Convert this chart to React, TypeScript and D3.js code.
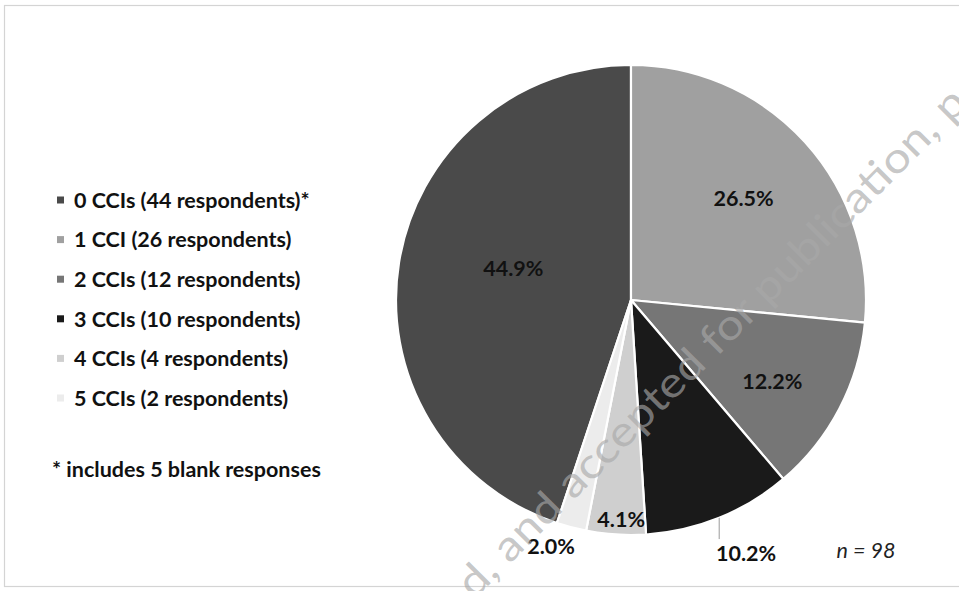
import React from "react";
import * as d3 from "d3";

const categories = [
  "0 CCIs (44 respondents)*",
  "1 CCI (26 respondents)",
  "2 CCIs (12 respondents)",
  "3 CCIs (10 respondents)",
  "4 CCIs (4 respondents)",
  "5 CCIs (2 respondents)",
];
const counts = [44, 26, 12, 10, 4, 2];
const percentLabels = ["44.9%", "26.5%", "12.2%", "10.2%", "4.1%", "2.0%"];
const sliceColors = ["#4a4a4a", "#a0a0a0", "#767676", "#1a1a1a", "#cfcfcf", "#ececec"];
// label placement (radius in px, angular nudge in degrees)
const labelRadius = [122, 152, 163, 278, 219, 259];
const labelAngleShift = [6, 0, 2.3, -2.4, -1.1, 3.3];
const leaderFor = [false, false, false, true, false, false];
const footnote = "* includes 5 blank responses";
const sampleNote = "n = 98";
const watermark = "d, and accepted for publication, p";

const W = 959;
const H = 591;
const FONT = "Lato, 'Open Sans', sans-serif";
const FS = 21.5;

export default function App() {
  const cx = 631;
  const cy = 300;
  const R = 235;
  const total = d3.sum(counts);
  const start = -(counts[0] / total) * 2 * Math.PI;
  const pie = d3
    .pie<number>()
    .sort(null)
    .startAngle(start)
    .endAngle(start + 2 * Math.PI);
  const arcs = pie(counts);
  const arcGen = d3.arc<d3.PieArcDatum<number>>().innerRadius(0).outerRadius(R);

  const polar = (angle: number, r: number) => [r * Math.sin(angle), -r * Math.cos(angle)];

  const legendY = d3.scaleLinear().domain([0, 5]).range([200, 398]);

  return (
    <svg
      width={W}
      height={H}
      style={{ position: "absolute", left: 0, top: 0, background: "#fff" }}
      fontFamily={FONT}
    >
      <rect x={0} y={0} width={W} height={H} fill="#fff" />
      <rect x={4.5} y={5.5} width={W + 10} height={581} fill="none" stroke="#d4d4d4" strokeWidth={1.2} />

      {/* legend */}
      {categories.map((c, i) => (
        <g key={c}>
          <rect x={57} y={legendY(i) - 3.5} width={7} height={7} fill={sliceColors[i]} />
          <text x={74} y={legendY(i)} dy="0.36em" fontSize={FS} fontWeight={700} fill="#111">
            {c}
          </text>
        </g>
      ))}
      <text x={52} y={469} dy="0.36em" fontSize={FS} fontWeight={700} fill="#111">
        {footnote}
      </text>

      {/* pie */}
      <g transform={`translate(${cx},${cy})`}>
        {arcs.map((a, i) => (
          <path key={i} d={arcGen(a) || ""} fill={sliceColors[i]} stroke="#fff" strokeWidth={2.2} strokeLinejoin="round" />
        ))}
        {arcs.map((a, i) => {
          const mid = (a.startAngle + a.endAngle) / 2 + (labelAngleShift[i] * Math.PI) / 180;
          const [lx, ly] = polar(mid, labelRadius[i]);
          const midRaw = (a.startAngle + a.endAngle) / 2;
          const [ex, ey] = polar(midRaw, R);
          return (
            <g key={"l" + i}>
              {leaderFor[i] && (
                <line x1={ex} y1={ey} x2={ex} y2={ly - 14} stroke="#9a9a9a" strokeWidth={1} />
              )}
              <text x={lx} y={ly} dy="0.36em" textAnchor="middle" fontSize={FS} fontWeight={700} fill="#111">
                {percentLabels[i]}
              </text>
            </g>
          );
        })}
      </g>

      <text x={866} y={550} dy="0.36em" textAnchor="middle" fontSize={FS} fontStyle="italic" fill="#222">
        {sampleNote}
      </text>

      {/* watermark */}
      <text
        x={0}
        y={0}
        transform="translate(474,600) rotate(-45)"
        fontSize={42}
        textLength={700}
        lengthAdjust="spacingAndGlyphs"
        fill="#a8a8a8"
        fillOpacity={0.65}
      >
        {watermark}
      </text>
    </svg>
  );
}
